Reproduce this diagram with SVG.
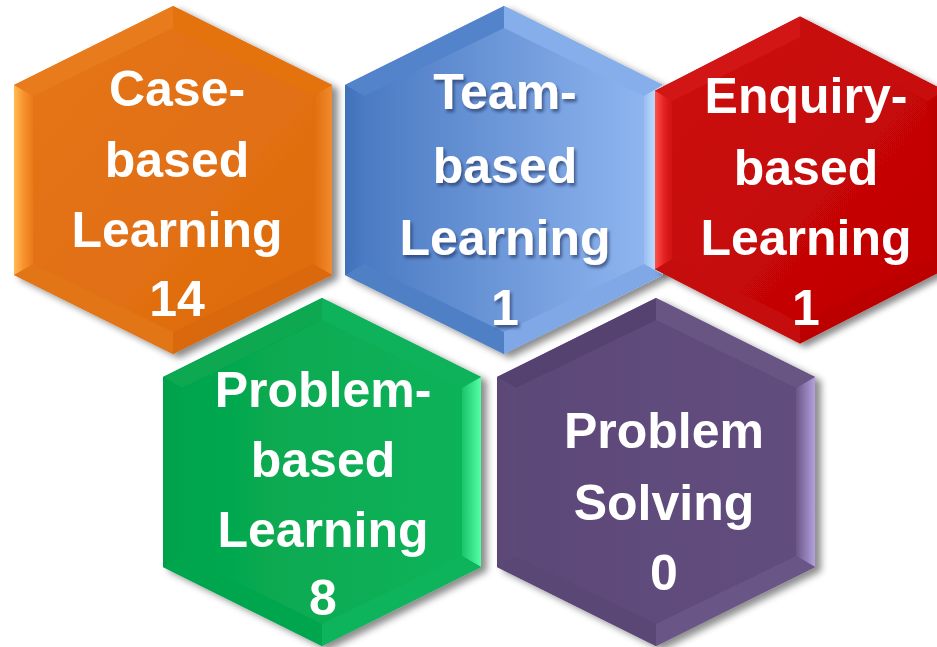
<svg xmlns="http://www.w3.org/2000/svg" width="937" height="647" viewBox="0 0 937 647">
<defs>
  <filter id="sh" x="-10%" y="-10%" width="125%" height="125%">
    <feDropShadow dx="6" dy="4" stdDeviation="3.5" flood-color="#000" flood-opacity="0.45"/>
  </filter>
  <filter id="tsh" x="-10%" y="-10%" width="130%" height="130%">
    <feDropShadow dx="2" dy="3" stdDeviation="1.5" flood-color="#0d2447" flood-opacity="0.55"/>
  </filter>
  <polygon id="hex" points="0,-174 159,-95 159,95 0,174 -159,95 -159,-95"/>
  <polygon id="fTL" points="0,-174 -159,-95 -140,-84 0,-152"/>
  <polygon id="fTR" points="0,-174 159,-95 140,-84 0,-152"/>
  <polygon id="fR" points="159,-95 159,95 140,84 140,-84"/>
  <polygon id="fBR" points="159,95 0,174 0,152 140,84"/>
  <polygon id="fBL" points="0,174 -159,95 -140,84 0,152"/>
  <polygon id="fL" points="-159,95 -159,-95 -140,-84 -140,84"/>
  <linearGradient id="oBase" x1="0" y1="0" x2="1" y2="1"><stop offset="0" stop-color="#E6761A"/><stop offset="1" stop-color="#DE6A0C"/></linearGradient>
  <linearGradient id="oL" x1="0" y1="0" x2="1" y2="0"><stop offset="0" stop-color="#FFBB55"/><stop offset="0.5" stop-color="#F8922E"/><stop offset="1" stop-color="#E97A18"/></linearGradient>
  <linearGradient id="oR" x1="0" y1="0" x2="1" y2="0"><stop offset="0" stop-color="#E06C0C"/><stop offset="1" stop-color="#F28A2E"/></linearGradient>
  <linearGradient id="bBase" x1="0" y1="0" x2="1" y2="0"><stop offset="0" stop-color="#4777C0"/><stop offset="1" stop-color="#93B9F2"/></linearGradient>
  <linearGradient id="bL" x1="0" y1="0" x2="1" y2="0"><stop offset="0" stop-color="#3F70B8"/><stop offset="1" stop-color="#4A7BC4"/></linearGradient>
  <linearGradient id="bR" x1="0" y1="0" x2="1" y2="0"><stop offset="0" stop-color="#98BEF4"/><stop offset="1" stop-color="#D6F2FF"/></linearGradient>
  <linearGradient id="rBase" x1="0" y1="0" x2="1" y2="1"><stop offset="0" stop-color="#CC1010"/><stop offset="1" stop-color="#C00000"/></linearGradient>
  <linearGradient id="rL" x1="0" y1="0" x2="1" y2="0"><stop offset="0" stop-color="#FF5050"/><stop offset="0.5" stop-color="#E52424"/><stop offset="1" stop-color="#CE1010"/></linearGradient>
  <linearGradient id="rR" x1="0" y1="0" x2="1" y2="0"><stop offset="0" stop-color="#C40404"/><stop offset="1" stop-color="#B00000"/></linearGradient>
  <linearGradient id="gBase" x1="0" y1="0" x2="1" y2="0"><stop offset="0" stop-color="#04A44C"/><stop offset="1" stop-color="#0DB45A"/></linearGradient>
  <linearGradient id="gL" x1="0" y1="0" x2="1" y2="0"><stop offset="0" stop-color="#02A04A"/><stop offset="1" stop-color="#05A54C"/></linearGradient>
  <linearGradient id="gR" x1="0" y1="0" x2="1" y2="0"><stop offset="0" stop-color="#18C468"/><stop offset="1" stop-color="#55FFA6"/></linearGradient>
  <linearGradient id="pBase" x1="0" y1="0" x2="1" y2="0"><stop offset="0" stop-color="#5C4878"/><stop offset="1" stop-color="#624E7E"/></linearGradient>
  <linearGradient id="pL" x1="0" y1="0" x2="1" y2="0"><stop offset="0" stop-color="#5A4676"/><stop offset="1" stop-color="#5E4A7A"/></linearGradient>
  <linearGradient id="pR" x1="0" y1="0" x2="1" y2="0"><stop offset="0" stop-color="#6A5788"/><stop offset="1" stop-color="#B4A0DC"/></linearGradient>
</defs>
<style>
  .lbl { font-family: "Liberation Sans", Arial, sans-serif; font-weight: bold; font-size: 50px; fill: #ffffff; text-anchor: middle; }
</style>
<rect width="937" height="647" fill="#ffffff"/>

<g id="case-based">
  <g transform="translate(173,180)" filter="url(#sh)">
    <use href="#hex" fill="url(#oBase)"/>
    <use href="#fTL" fill="#E87C1C"/>
    <use href="#fTR" fill="#E5730F"/>
    <use href="#fR" fill="url(#oR)"/>
    <use href="#fBR" fill="#DA680A"/>
    <use href="#fBL" fill="#E27618"/>
    <use href="#fL" fill="url(#oL)"/>
  </g>
  <text class="lbl" x="177" y="106">Case-</text>
  <text class="lbl" x="177" y="177">based</text>
  <text class="lbl" x="177" y="247">Learning</text>
  <text class="lbl" x="177" y="316">14</text>
</g>

<g id="team-based">
  <g transform="translate(504,180)" filter="url(#sh)">
    <use href="#hex" fill="url(#bBase)"/>
    <use href="#fTL" fill="#5283CA"/>
    <use href="#fTR" fill="#86AEEA"/>
    <use href="#fR" fill="url(#bR)"/>
    <use href="#fBR" fill="#80A8E6"/>
    <use href="#fBL" fill="#4F80C6"/>
    <use href="#fL" fill="url(#bL)"/>
  </g>
  <g filter="url(#tsh)">
    <text class="lbl" x="505" y="109">Team-</text>
    <text class="lbl" x="505" y="183">based</text>
    <text class="lbl" x="505" y="255">Learning</text>
    <text class="lbl" x="505" y="325">1</text>
  </g>
</g>

<g id="enquiry-based">
  <g transform="translate(800,180) scale(0.912,0.94)" filter="url(#sh)">
    <use href="#hex" fill="url(#rBase)"/>
    <use href="#fTL" fill="#D21616"/>
    <use href="#fTR" fill="#C80808"/>
    <use href="#fR" fill="url(#rR)"/>
    <use href="#fBR" fill="#BC0202"/>
    <use href="#fBL" fill="#C60C0C"/>
    <use href="#fL" fill="url(#rL)"/>
  </g>
  <text class="lbl" x="806" y="113">Enquiry-</text>
  <text class="lbl" x="806" y="185">based</text>
  <text class="lbl" x="806" y="255">Learning</text>
  <text class="lbl" x="806" y="325">1</text>
</g>

<g id="problem-based">
  <g transform="translate(322,472)" filter="url(#sh)">
    <use href="#hex" fill="url(#gBase)"/>
    <use href="#fTL" fill="#07A850"/>
    <use href="#fTR" fill="#0FB25A"/>
    <use href="#fR" fill="url(#gR)"/>
    <use href="#fBR" fill="#10B45C"/>
    <use href="#fBL" fill="#06A64E"/>
    <use href="#fL" fill="url(#gL)"/>
  </g>
  <text class="lbl" x="323" y="407">Problem-</text>
  <text class="lbl" x="323" y="477">based</text>
  <text class="lbl" x="323" y="547">Learning</text>
  <text class="lbl" x="323" y="615">8</text>
</g>

<g id="problem-solving">
  <g transform="translate(656,472)" filter="url(#sh)">
    <use href="#hex" fill="url(#pBase)"/>
    <use href="#fTL" fill="#554270"/>
    <use href="#fTR" fill="#675483"/>
    <use href="#fR" fill="url(#pR)"/>
    <use href="#fBR" fill="#6A5786"/>
    <use href="#fBL" fill="#5A4775"/>
    <use href="#fL" fill="url(#pL)"/>
  </g>
  <text class="lbl" x="664" y="448">Problem</text>
  <text class="lbl" x="664" y="520">Solving</text>
  <text class="lbl" x="664" y="590">0</text>
</g>

<g id="connectors"/>
</svg>
